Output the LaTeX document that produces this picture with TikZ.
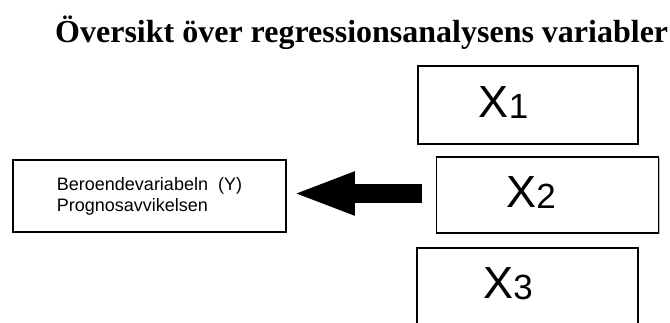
\documentclass[tikz,border=0pt]{standalone}
\usepackage{fontspec}
\setmainfont{Liberation Serif}
\setsansfont{Liberation Sans}
\usetikzlibrary{arrows.meta,shadows}
\begin{document}
\begin{tikzpicture}[x=1pt,y=-1pt,
  vbox/.style={draw=black, line width=1.8pt, fill=white, rectangle, inner sep=0pt,
    drop shadow={shadow xshift=1.2pt, shadow yshift=-1.2pt, fill=black!45, opacity=0.6}},
  xlab/.style={font=\sffamily, inner sep=0pt, anchor=base},
  bigarrow/.style={line width=19pt, -{Triangle[length=63pt,width=39pt]}},
]
\useasboundingbox (0,0) rectangle (670,322);
\node[font=\fontsize{32}{32}\selectfont\bfseries, inner sep=0pt, anchor=base west] (title) at (55,42) {Översikt över regressionsanalysens variabler};

\node[vbox, minimum width=273pt, minimum height=72pt, align=left,
  font=\sffamily\fontsize{18}{21}\selectfont] (ybox) at (149.5,196)
  {Beroendevariabeln\ \ (Y)\\Prognosavvikelsen};

\node[vbox, minimum width=220pt, minimum height=78pt] (x1) at (528,105) {};
\node[vbox, minimum width=222pt, minimum height=76pt] (x2) at (547.5,195) {};
\node[vbox, minimum width=221pt, minimum height=92pt] (x3) at (527.5,294) {};

\node[xlab] (x1t) at (503.5,117) {\fontsize{45}{45}\selectfont X\fontsize{35}{35}\selectfont\raisebox{-1.5pt}{1}};
\node[xlab] (x2t) at (531,207) {\fontsize{45}{45}\selectfont X\fontsize{35}{35}\selectfont\raisebox{-1.5pt}{2}};
\node[xlab] (x3t) at (508,298) {\fontsize{45}{45}\selectfont X\fontsize{35}{35}\selectfont\raisebox{-1.5pt}{3}};

\coordinate (tail) at ([xshift=-13.5pt,yshift=1.5pt]x2.west);
\coordinate (tip) at ([xshift=5pt,yshift=2.5pt]ybox.east);
\draw[bigarrow] (tail) -- (tip);
\end{tikzpicture}
\end{document}
